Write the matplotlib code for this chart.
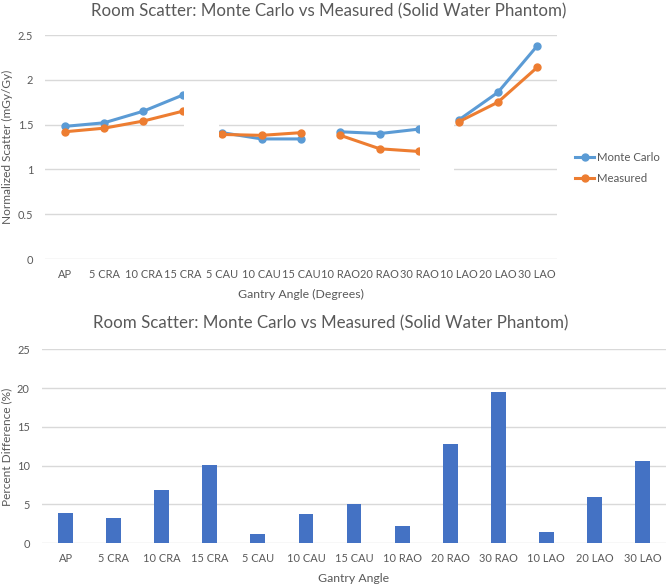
import matplotlib.pyplot as plt
from matplotlib.patches import Rectangle
import numpy as np

angles = ['AP', '5 CRA', '10 CRA', '15 CRA', '5 CAU', '10 CAU', '15 CAU',
          '10 RAO', '20 RAO', '30 RAO', '10 LAO', '20 LAO', '30 LAO']
monte_carlo = [1.48, 1.52, 1.65, 1.83, 1.41, 1.34, 1.34,
               1.42, 1.40, 1.45, 1.55, 1.86, 2.38]
measured = [1.42, 1.46, 1.54, 1.65, 1.39, 1.38, 1.41,
            1.38, 1.23, 1.20, 1.53, 1.75, 2.14]
pct_diff = [3.9, 3.2, 6.9, 10.1, 1.2, 3.8, 5.1,
            2.2, 12.8, 19.5, 1.5, 6.0, 10.6]
# lines are only joined inside each gantry group
groups = [(0, 4), (4, 7), (7, 10), (10, 13)]

plt.rcParams['font.family'] = ['Lato', 'DejaVu Sans']
txt = '#595959'
grid_c = '#d9d9d9'
blue, orange, bar_c = '#5b9bd5', '#ed7d31', '#4472c4'
title = 'Room Scatter: Monte Carlo vs Measured (Solid Water Phantom)'

W, H = 669, 587
fig = plt.figure(figsize=(W / 100, H / 100), dpi=100)


def box(l, t, r, b):
    return [l / W, 1 - b / H, (r - l) / W, (b - t) / H]


def put(px, py, s, **kw):
    fig.text(px / W, 1 - py / H, s, color=txt, ha='center', va='center', **kw)


def style(ax):
    for s in ax.spines.values():
        s.set_visible(False)
    ax.tick_params(length=0, colors=txt, labelsize=7.9)
    ax.yaxis.grid(True, color=grid_c, lw=1)
    ax.set_axisbelow(True)


# top chart
ax1 = fig.add_axes(box(45, 35, 557, 259))
x = np.arange(len(angles))
for a, b in groups:
    l1, = ax1.plot(x[a:b], monte_carlo[a:b], color=blue, lw=2.2,
                   marker='o', ms=5, label='Monte Carlo')
    l2, = ax1.plot(x[a:b], measured[a:b], color=orange, lw=2.2,
                   marker='o', ms=5, label='Measured')
# the source chart was pasted together; white strips cut the gridlines
for x0, x1, y0, y1 in [(3.03, 3.92, 1.22, 1.9), (9.02, 9.89, 0.8, 1.75)]:
    ax1.add_patch(Rectangle((x0, y0), x1 - x0, y1 - y0, color='white',
                            lw=0, zorder=5))
ax1.set_xlim(-0.5, len(angles) - 0.5)
ax1.set_ylim(0, 2.5)
ax1.set_yticks([0, 0.5, 1, 1.5, 2, 2.5])
ax1.set_yticklabels(['0', '0.5', '1', '1.5', '2', '2.5'])
ax1.set_xticks(x)
ax1.set_xticklabels(angles)
style(ax1)
ax1.tick_params(axis='x', pad=7)
ax1.tick_params(axis='y', pad=8.6)
put(329, 11, title, fontsize=12.2)
put(301, 294, 'Gantry Angle (Degrees)', fontsize=8.8)
put(7, 147, 'Normalized Scatter (mGy/Gy)', fontsize=8.6, rotation=90)
fig.legend([l1, l2], ['Monte Carlo', 'Measured'], loc='center left',
           bbox_to_anchor=(567 / W, 1 - 168 / H), frameon=False, fontsize=8.2,
           handlelength=1.7, labelcolor=txt, labelspacing=0.9, handletextpad=0.25,
           borderpad=0.2)

# bottom chart
ax2 = fig.add_axes(box(41.7, 349.3, 666.4, 543.3))
ax2.bar(x, pct_diff, width=0.31, color=bar_c)
ax2.set_xlim(-0.5, len(angles) - 0.5)
ax2.set_ylim(0, 25)
ax2.set_yticks([0, 5, 10, 15, 20, 25])
ax2.set_xticks(x)
ax2.set_xticklabels(angles)
style(ax2)
ax2.tick_params(axis='x', pad=7)
ax2.tick_params(axis='y', pad=8.6)
put(331, 323, title, fontsize=12.2)
put(354, 578, 'Gantry Angle', fontsize=8.8)
put(7, 447, 'Percent Difference (%)', fontsize=8.6, rotation=90)

fig.savefig('out.png', dpi=100)
